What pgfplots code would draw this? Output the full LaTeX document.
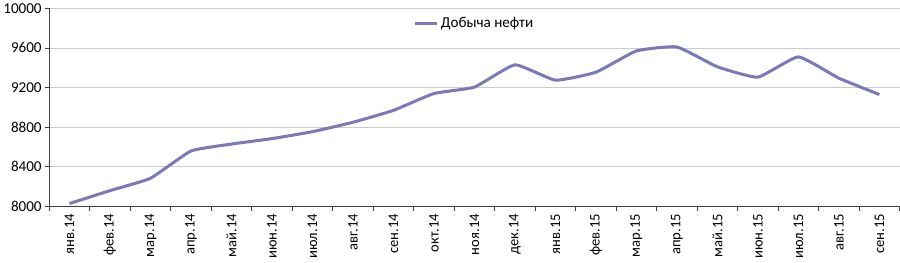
\documentclass[border=0pt]{standalone}
\usepackage{pgfplots}
\pgfplotsset{compat=1.18}
\usepackage{fontspec}
\setmainfont{Carlito}
\definecolor{oil}{RGB}{122,122,182}
\begin{document}
\begin{tikzpicture}[x=1bp,y=1bp]
\begin{axis}[
  scale only axis,
  width=841bp, height=196bp,
  xmin=-0.5, xmax=20.5,
  ymin=8000, ymax=10000,
  ytick={8000,8400,...,10000},
  scaled y ticks=false,
  xtick={0,...,20},
  xticklabels={янв.14,фев.14,мар.14,апр.14,май.14,июн.14,июл.14,авг.14,сен.14,окт.14,ноя.14,дек.14,янв.15,фев.15,мар.15,апр.15,май.15,июн.15,июл.15,авг.15,сен.15},
  minor xtick={-0.5,0.5,...,20.5},
  major x tick style={draw=none},
  tick align=outside,
  major tick length=4bp, minor tick length=4bp,
  x tick label style={rotate=90, anchor=east, font=\fontsize{14.5}{14.5}\selectfont},
  y tick label style={font=\fontsize{15}{15}\selectfont},
  /pgf/number format/assume math mode=true,
  yticklabel style={/pgf/number format/1000 sep={}, /pgf/number format/fixed},
  ymajorgrids, grid style={gray!40, line width=0.8pt},
  axis x line*=bottom, axis y line*=left,
  axis line style={black!75, line width=0.8pt},
  tick style={black!75, line width=0.8pt},
  x axis line style={-}, y axis line style={-},
  legend style={at={(0.5,0.975)}, anchor=north, draw=none, fill=none,
    font=\fontsize{15}{15}\selectfont, legend columns=1},
  legend image code/.code={\draw[#1, line width=3pt] (0bp,0bp) -- (22bp,0bp);},
]
\addplot[color=oil, line width=3pt, smooth, tension=0.25] coordinates {
(0,8030) (1,8160) (2,8285) (3,8560) (4,8630) (5,8685) (6,8755) (7,8850)
(8,8970) (9,9140) (10,9205) (11,9430) (12,9275) (13,9355) (14,9570)
(15,9610) (16,9410) (17,9305) (18,9510) (19,9295) (20,9130)};
\addlegendentry{Добыча нефти}
\end{axis}
\end{tikzpicture}
\end{document}
